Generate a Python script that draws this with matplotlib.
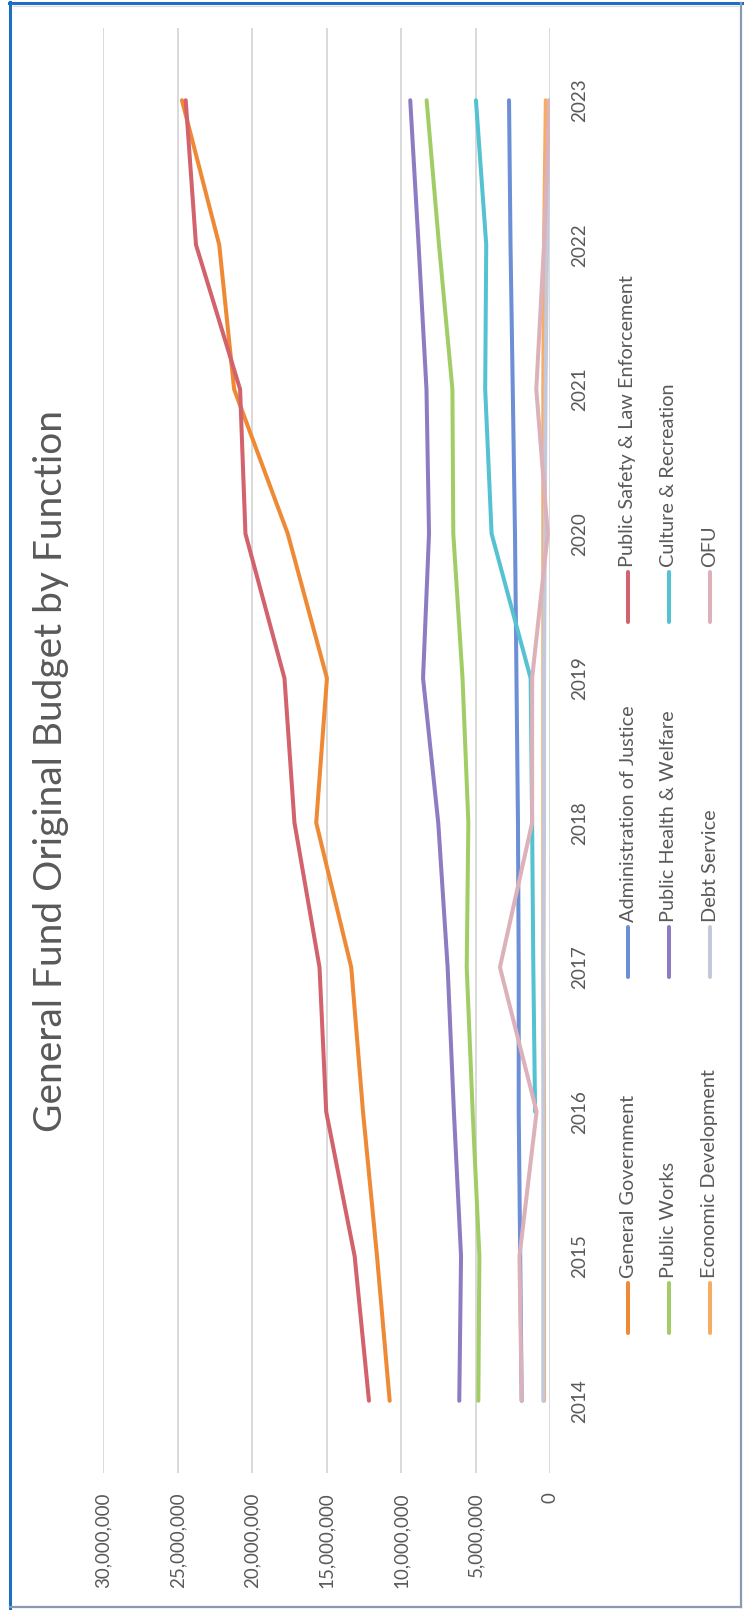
import numpy as np
import matplotlib
matplotlib.use("Agg")
import matplotlib.pyplot as plt
from matplotlib.lines import Line2D

plt.rcParams['font.family'] = ['Lato', 'DejaVu Sans']

# ---------------- data (values in dollars) ----------------
years = [2014, 2015, 2016, 2017, 2018, 2019, 2020, 2021, 2022, 2023]
general_government = [10.76e6, 11.61e6, 12.55e6, 13.34e6, 15.69e6, 14.97e6, 17.60e6, 21.20e6, 22.20e6, 24.70e6]
admin_justice = [1.90e6, 2.00e6, 2.10e6, 2.10e6, 2.15e6, 2.25e6, 2.35e6, 2.50e6, 2.65e6, 2.75e6]
public_safety = [12.15e6, 13.11e6, 15.02e6, 15.47e6, 17.15e6, 17.82e6, 20.44e6, 20.80e6, 23.76e6, 24.45e6]
public_works = [4.81e6, 4.74e6, 5.19e6, 5.59e6, 5.48e6, 5.87e6, 6.49e6, 6.55e6, 7.45e6, 8.28e6]
public_health = [6.09e6, 5.97e6, 6.45e6, 6.87e6, 7.50e6, 8.52e6, 8.12e6, 8.29e6, 8.82e6, 9.38e6]
culture_rec = [np.nan, np.nan, 1.00e6, 1.12e6, 1.20e6, 1.30e6, 3.92e6, 4.35e6, 4.28e6, 4.97e6]
economic_dev = [0.40e6, 0.40e6, 0.40e6, 0.45e6, 0.45e6, 0.45e6, 0.45e6, 0.45e6, 0.40e6, 0.28e6]
debt_service = [0.45e6, 0.45e6, 0.45e6, 0.45e6, 0.40e6, 0.40e6, 0.35e6, 0.30e6, 0.20e6, 0.05e6]
ofu = [1.90e6, 2.05e6, 0.90e6, 3.36e6, 1.20e6, 1.20e6, 0.15e6, 0.92e6, 0.40e6, 0.03e6]

series_names = ["General Government", "Administration of Justice", "Public Safety & Law Enforcement",
                "Public Works", "Public Health & Welfare", "Culture & Recreation",
                "Economic Development", "Debt Service", "OFU"]
series_values = [general_government, admin_justice, public_safety, public_works, public_health,
                 culture_rec, economic_dev, debt_service, ofu]
series_colors = ["#EE8A35", "#6C8FD6", "#D2626C", "#A2CD66", "#8E7CC3", "#55C2D2",
                 "#F6AC63", "#C3C9DA", "#DDB1BA"]
value_ticks = [0, 5e6, 10e6, 15e6, 20e6, 25e6, 30e6]
title = "General Fund Original Budget by Function"

W, H = 744, 1610
fig = plt.figure(figsize=(W / 100, H / 100), dpi=100)
fig.patch.set_facecolor("white")

def fx(px):
    return px / W

def fy(py):
    return 1 - py / H

# plot area (chart is rotated 90 deg counter-clockwise)
x0, x1 = 103, 550      # 30M ... 0
y0, y1 = 28, 1473      # top ... bottom
ax = fig.add_axes([fx(x0), fy(y1), fx(x1) - fx(x0), (y1 - y0) / H])

LW = 2.9
for vals, col in zip(series_values, series_colors):
    ax.plot(vals, years, color=col, lw=LW, solid_capstyle='round', solid_joinstyle='round', zorder=3)

ax.set_xlim(30e6, 0)
ax.set_ylim(2013.5, 2023.5)
for s in ax.spines.values():
    s.set_visible(False)
ax.set_xticks(value_ticks)
ax.set_xticklabels(["{:,}".format(int(v)) for v in value_ticks])
ax.xaxis.grid(True, color="#D9D9D9", lw=1.4, zorder=0)
ax.yaxis.grid(False)
ax.set_axisbelow(True)
ax.tick_params(axis='x', length=0, pad=14.0, labelcolor="#595959", labelrotation=90)
ax.yaxis.tick_right()
ax.set_yticks(years)
ax.set_yticklabels([str(y) for y in years])
ax.tick_params(axis='y', length=0, pad=15.5, labelcolor="#595959", labelrotation=90)
for lbl in ax.get_yticklabels():
    lbl.set_va('center')
    lbl.set_ha('left')
for lbl in ax.get_xticklabels():
    lbl.set_ha('center')
    lbl.set_va('top')

renderer = fig.canvas.get_renderer()

def fit_size(sample, target_px):
    t = fig.text(0, 0, sample, fontsize=10, rotation=90)
    h = t.get_window_extent(renderer).height
    t.remove()
    return 10 * target_px / h

tick_fs = fit_size("30,000,000", 95)
year_fs = fit_size("2014", 44)
leg_fs = fit_size("Administration of Justice", 218)
title_fs = fit_size(title, 722)

for lbl in ax.get_xticklabels():
    lbl.set_fontsize(tick_fs)
for lbl in ax.get_yticklabels():
    lbl.set_fontsize(year_fs)

# title
fig.text(fx(51), fy(771), title, rotation=90, ha='center', va='center',
         fontsize=title_fs, color="#595959")

# legend (3 rows x 3 columns in the original orientation)
leg_x = [628, 669, 710]
leg_y = [1333, 977, 622]
for i, (name, col) in enumerate(zip(series_names, series_colors)):
    cx = leg_x[i // 3]
    by = leg_y[i % 3]
    fig.add_artist(Line2D([fx(cx), fx(cx)], [fy(by), fy(by - 50)], transform=fig.transFigure,
                          color=col, lw=LW, solid_capstyle='round'))
    fig.text(fx(cx), fy(by - 55), name, rotation=90, ha='center', va='bottom',
             fontsize=leg_fs, color="#595959")

# outer frame
fig.add_artist(Line2D([fx(10), fx(10)], [fy(2), fy(1608)], transform=fig.transFigure, color="#1F6FC0", lw=2.2))
fig.add_artist(Line2D([fx(9), fx(742)], [fy(3), fy(3)], transform=fig.transFigure, color="#1F6FC0", lw=2.2))
fig.add_artist(Line2D([fx(741), fx(741)], [fy(3), fy(1607)], transform=fig.transFigure, color="#8A9AB0", lw=1.6))
fig.add_artist(Line2D([fx(10), fx(741)], [fy(1607), fy(1607)], transform=fig.transFigure, color="#8A9AB0", lw=1.6))
fig.add_artist(Line2D([fx(13), fx(738)], [fy(6), fy(6)], transform=fig.transFigure, color="#D9D9D9", lw=0.8))

fig.savefig("out.png", dpi=100, facecolor="white")
